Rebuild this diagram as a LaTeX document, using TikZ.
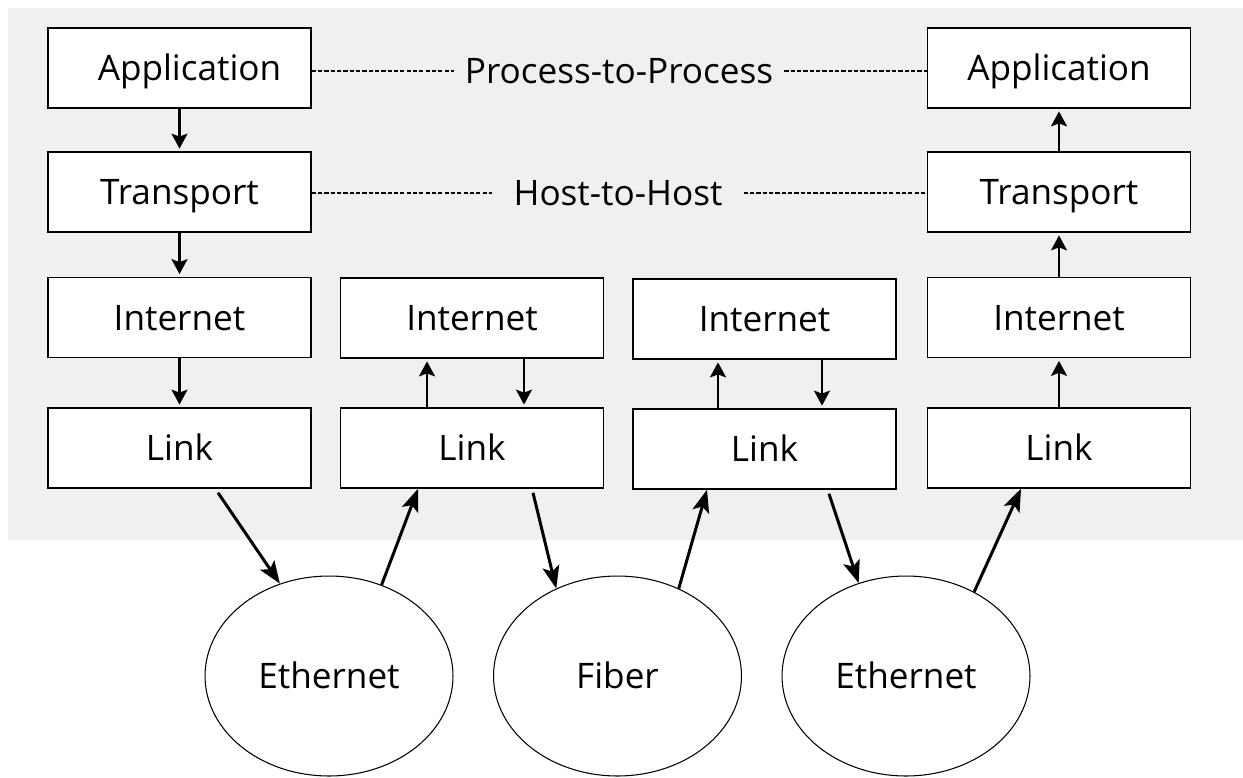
\documentclass[tikz,border=0pt]{standalone}
\usepackage{fontspec}
\setmainfont{Open Sans}
\usetikzlibrary{arrows.meta,backgrounds,shapes.geometric}
\definecolor{panelgray}{RGB}{240,240,240}
\newcommand{\panelcolor}{panelgray}
\newcommand{\boxw}{5.26cm}
\newcommand{\boxh}{1.6cm}
\newcommand{\labelsize}{\fontsize{20}{24}\selectfont}

\begin{document}
\begin{tikzpicture}[x=0.02cm,y=-0.02cm,
  every node/.style={text height=14.3pt, text depth=0pt},
  layerbox/.style={draw, fill=white, line width=0.85pt, minimum width=\boxw, minimum height=\boxh, font=\labelsize},
  medium/.style={draw, ellipse, fill=white, line width=0.6pt, minimum width=4.96cm, minimum height=4cm, inner sep=0pt, font=\labelsize},
  peer/.style={font=\labelsize, inner ysep=0pt, inner xsep=0.22cm},
  peerline/.style={line width=0.6pt, dash pattern=on 2.4pt off 1.2pt},
  stackarrow/.style={line width=1.3pt, -{Stealth[length=0.3cm, width=0.32cm, inset=0.06cm]}, shorten >=1.5pt},
  wirearrow/.style={line width=1.7pt, -{Stealth[length=0.45cm, width=0.34cm, inset=0.1cm]}}]
\useasboundingbox (0,0) rectangle (1243,777);
\fill[\panelcolor] (8,8) rectangle (1243,540);
%sending host
\node[layerbox] (a1) at (179.5, 68) {\hspace*{0.4cm}Application};
\node[layerbox] (t1) at (179.5, 192) {Transport};
\node[layerbox] (i1) at (179.5, 317.5) {Internet};
\node[layerbox] (l1) at (179.5, 448) {Link};
%routers
\node[layerbox] (i2) at (472, 318) {Internet};
\node[layerbox] (l2) at (472, 448) {Link};
\node[layerbox] (i3) at (764.5, 319) {Internet};
\node[layerbox] (l3) at (764.5, 449) {Link};
%receiving host
\node[layerbox] (a4) at (1059, 68) {Application};
\node[layerbox] (t4) at (1059, 192) {Transport};
\node[layerbox] (i4) at (1059, 317.5) {Internet};
\node[layerbox] (l4) at (1059, 448) {Link};
%networks
\node[medium] (e1) at (329, 676) {Ethernet};
\node[medium] (f) at (617.5, 676) {Fiber};
\node[medium] (e2) at (906, 676) {Ethernet};
%peer texts
\node[peer] (p2p) at (619, 71) {Process-to-Process};
\node[peer, inner xsep=0.42cm] (h2h) at (618, 193) {Host-to-Host};
\draw[peerline] (a1.east |- p2p.west) -- (p2p.west);
\draw[peerline] (p2p.east) -- (a4.west |- p2p.east);
\draw[peerline] (t1.east |- h2h.west) -- (h2h.west);
\draw[peerline] (h2h.east) -- (t4.west |- h2h.east);
%down the stack
\draw[stackarrow] (a1) -- (t1);
\draw[stackarrow] (t1) -- (i1);
\draw[stackarrow] (i1) -- (l1);
\draw[stackarrow] ([xshift=-0.9cm]l2.north) -- ([xshift=-0.9cm]i2.south);
\draw[stackarrow] ([xshift=1.04cm]i2.south) -- ([xshift=1.04cm]l2.north);
\draw[stackarrow] ([xshift=-0.93cm]l3.north) -- ([xshift=-0.93cm]i3.south);
\draw[stackarrow] ([xshift=1.15cm]i3.south) -- ([xshift=1.15cm]l3.north);
\draw[stackarrow] (l4) -- (i4);
\draw[stackarrow] (i4) -- (t4);
\draw[stackarrow] (t4) -- (a4);
%over the wire
\draw[wirearrow] ([xshift=0.77cm,yshift=-0.08cm]l1.south) -- (e1.118.8);
\draw[wirearrow] (e1.60.4) -- ([xshift=-1.08cm]l2.south);
\draw[wirearrow] ([xshift=1.22cm,yshift=-0.08cm]l2.south) -- (f.125.4);
\draw[wirearrow] (f.55.8) -- ([xshift=-1.15cm]l3.south);
\draw[wirearrow] ([xshift=1.29cm,yshift=-0.08cm]l3.south) -- (e2.117.7);
\draw[wirearrow] (e2.51.5) -- ([xshift=-0.76cm]l4.south);
\end{tikzpicture}
\end{document}
